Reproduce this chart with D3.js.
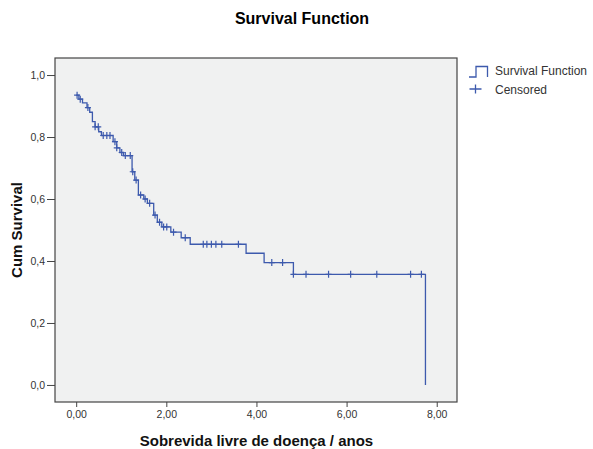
<!DOCTYPE html>
<html>
<head>
<meta charset="utf-8">
<script src="https://cdn.jsdelivr.net/npm/d3@7"></script>
<style>
  body { margin: 0; background: #fff; }
  svg { display: block; font-family: "Liberation Sans", Arial, sans-serif; }
  .tick text { fill: #333; font-size: 10.5px; }
  .tick line { stroke: #444; }
</style>
</head>
<body>
<div id="wrapper"></div>
<script>
// event times (years) and cumulative survival after each event
const eventTimes = [0.00, 0.06, 0.14, 0.24, 0.30, 0.36, 0.42, 0.50, 0.56, 0.82, 0.90, 0.97, 1.05,
  1.24, 1.30, 1.38, 1.50, 1.58, 1.72, 1.80, 1.90, 2.10, 2.33, 2.53, 3.77, 4.17, 4.82, 7.75]
const eventSurvival = [0.935, 0.922, 0.910, 0.895, 0.880, 0.850, 0.833, 0.817, 0.805, 0.785, 0.765, 0.750, 0.740,
  0.688, 0.661, 0.613, 0.600, 0.586, 0.548, 0.525, 0.510, 0.493, 0.475, 0.454, 0.425, 0.395, 0.357, 0.0]
// censored observations
const censorTimes = [0.02, 0.09, 0.26, 0.42, 0.49, 0.60, 0.68, 0.75, 0.86, 0.90, 1.01, 1.09, 1.20,
  1.255, 1.33, 1.43, 1.53, 1.63, 1.75, 1.85, 1.94, 2.01, 2.16, 2.42,
  2.82, 2.90, 3.00, 3.10, 3.23, 3.60, 4.34, 4.58, 4.82, 5.10, 5.60, 6.09, 6.67, 7.42, 7.66]
const xTicks = [0, 2, 4, 6, 8]
const yTicks = [0, 0.2, 0.4, 0.6, 0.8, 1.0]

const lineColor = "#3d5aad"

const svg = d3.select("#wrapper").append("svg")
    .attr("width", 593)
    .attr("height", 449)

const x = d3.scaleLinear().domain([-0.47, 8.45]).range([55, 457])
const y = d3.scaleLinear().domain([-0.055, 1.055]).range([402, 58])

// survival value at a given time (step function)
const survivalAt = t => {
    let s = 1
    eventTimes.forEach((e, i) => { if (e <= t) s = eventSurvival[i] })
    return s
}

// plot background + frame
svg.append("rect")
    .attr("x", x.range()[0]).attr("y", y.range()[1])
    .attr("width", x.range()[1] - x.range()[0])
    .attr("height", y.range()[0] - y.range()[1])
    .attr("fill", "#f0f1f1")
    .attr("stroke", "#444")
    .attr("stroke-width", 1.2)

// axes
const xAxis = d3.axisBottom(x)
    .tickValues(xTicks)
    .tickSize(5)
    .tickPadding(4)
    .tickFormat(d => d.toFixed(2).replace(".", ","))
svg.append("g")
    .attr("transform", `translate(0,${y.range()[0]})`)
    .call(xAxis)
    .call(g => g.select(".domain").remove())

const yAxis = d3.axisLeft(y)
    .tickValues(yTicks)
    .tickSize(8)
    .tickPadding(2)
    .tickFormat(d => d.toFixed(1).replace(".", ","))
svg.append("g")
    .attr("transform", `translate(${x.range()[0]},0)`)
    .call(yAxis)
    .call(g => g.select(".domain").remove())

// survival step line
const stepData = eventTimes.map((t, i) => [t, eventSurvival[i]])
const line = d3.line()
    .x(d => x(d[0]))
    .y(d => y(d[1]))
    .curve(d3.curveStepAfter)
svg.append("path")
    .datum(stepData)
    .attr("d", line)
    .attr("fill", "none")
    .attr("stroke", lineColor)
    .attr("stroke-width", 1.3)

// censored marks
svg.append("g")
    .selectAll("path")
    .data(censorTimes)
    .join("path")
        .attr("d", d => {
            const cx = x(d), cy = y(survivalAt(d))
            return `M${cx - 3},${cy}H${cx + 3}M${cx},${cy - 3.5}V${cy + 3.5}`
        })
        .attr("stroke", lineColor)
        .attr("stroke-width", 1.2)
        .attr("fill", "none")

// titles
svg.append("text")
    .attr("x", 302).attr("y", 24)
    .attr("text-anchor", "middle")
    .style("font-size", "16px").style("font-weight", "bold")
    .text("Survival Function")

svg.append("text")
    .attr("x", x(4)).attr("y", 446)
    .attr("text-anchor", "middle")
    .style("font-size", "15px").style("font-weight", "bold")
    .attr("fill", "#111")
    .text("Sobrevida livre de doença / anos")

svg.append("text")
    .attr("transform", `translate(22,${y(0.5)}) rotate(-90)`)
    .attr("text-anchor", "middle")
    .style("font-size", "15px").style("font-weight", "bold")
    .attr("fill", "#111")
    .text("Cum Survival")

// legend
const legend = svg.append("g")
legend.append("path")
    .attr("d", "M469,77H476V66.5H487.5V77")
    .attr("fill", "none")
    .attr("stroke", lineColor)
    .attr("stroke-width", 1.3)
legend.append("path")
    .attr("d", "M469.5,89H481.5M475.5,84.5V93.5")
    .attr("fill", "none")
    .attr("stroke", lineColor)
    .attr("stroke-width", 1.3)
legend.append("text")
    .attr("x", 495).attr("y", 75)
    .style("font-size", "12px").attr("fill", "#333")
    .text("Survival Function")
legend.append("text")
    .attr("x", 495).attr("y", 93.5)
    .style("font-size", "12px").attr("fill", "#333")
    .text("Censored")
</script>
</body>
</html>
